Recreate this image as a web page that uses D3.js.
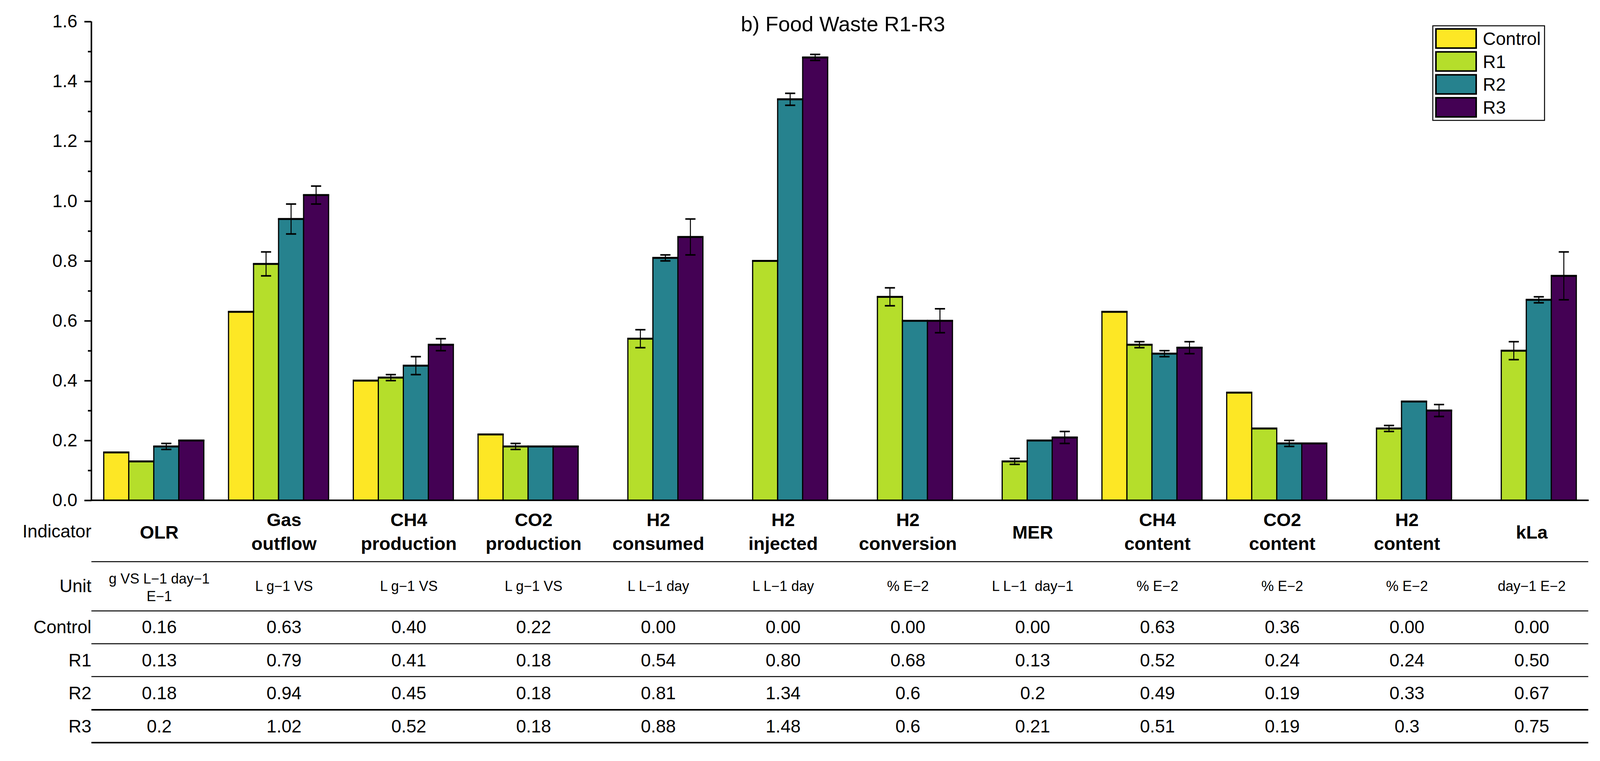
<!DOCTYPE html>
<html>
<head>
<meta charset="utf-8">
<script src="https://cdn.jsdelivr.net/npm/d3@7"></script>
<style>
  html, body { margin: 0; padding: 0; background: #fff; }
  svg { display: block; }
  text { font-family: "Liberation Sans", Arial, sans-serif; fill: #000; }
</style>
</head>
<body>
<svg id="chart" width="4127" height="1947"></svg>
<script>
// ---------------- DATA ----------------
const categories = ["OLR","Gas outflow","CH4 production","CO2 production","H2 consumed","H2 injected","H2 conversion","MER","CH4 content","CO2 content","H2 content","kLa"];
const headerLines = [["OLR"],["Gas","outflow"],["CH4","production"],["CO2","production"],["H2","consumed"],["H2","injected"],["H2","conversion"],["MER"],["CH4","content"],["CO2","content"],["H2","content"],["kLa"]];
const unitLines = [["g VS L\u22121 day\u22121","E\u22121"],["L g\u22121 VS"],["L g\u22121 VS"],["L g\u22121 VS"],["L L\u22121 day"],["L L\u22121 day"],["% E\u22122"],["L L\u22121  day\u22121"],["% E\u22122"],["% E\u22122"],["% E\u22122"],["day\u22121 E\u22122"]];
const seriesNames = ["Control","R1","R2","R3"];
const seriesColors = ["#FDE725","#B5DE2B","#26828E","#440154"];

const controlValues = [0.16,0.63,0.40,0.22,0,0,0,0,0.63,0.36,0,0];
const r1Values      = [0.13,0.79,0.41,0.18,0.54,0.80,0.68,0.13,0.52,0.24,0.24,0.50];
const r2Values      = [0.18,0.94,0.45,0.18,0.81,1.34,0.6,0.2,0.49,0.19,0.33,0.67];
const r3Values      = [0.2,1.02,0.52,0.18,0.88,1.48,0.6,0.21,0.51,0.19,0.3,0.75];

const controlErr = [0,0,0,0,0,0,0,0,0,0,0,0];
const r1Err      = [0,0.04,0.01,0.01,0.03,0,0.03,0.01,0.01,0,0.01,0.03];
const r2Err      = [0.01,0.05,0.03,0,0.01,0.02,0,0,0.01,0.01,0,0.01];
const r3Err      = [0,0.03,0.02,0,0.06,0.01,0.04,0.02,0.02,0,0.02,0.08];

const controlText = ["0.16","0.63","0.40","0.22","0.00","0.00","0.00","0.00","0.63","0.36","0.00","0.00"];
const r1Text      = ["0.13","0.79","0.41","0.18","0.54","0.80","0.68","0.13","0.52","0.24","0.24","0.50"];
const r2Text      = ["0.18","0.94","0.45","0.18","0.81","1.34","0.6","0.2","0.49","0.19","0.33","0.67"];
const r3Text      = ["0.2","1.02","0.52","0.18","0.88","1.48","0.6","0.21","0.51","0.19","0.3","0.75"];

const yTicks = [0,0.2,0.4,0.6,0.8,1.0,1.2,1.4,1.6];
const yMinorTicks = [0.1,0.3,0.5,0.7,0.9,1.1,1.3,1.5];
const titleText = "b) Food Waste R1-R3";

// ---------------- LAYOUT ----------------
const svg = d3.select("#chart");
const X0 = 234, X1 = 4067, Y0 = 1280, YTOP = 55;
const FONT = 46;

const values = [controlValues, r1Values, r2Values, r3Values];
const errs = [controlErr, r1Err, r2Err, r3Err];
const texts = [controlText, r1Text, r2Text, r3Text];

const x = d3.scaleBand().domain(categories).range([X0, X1]).paddingInner(0.198).paddingOuter(0.099);
const xs = d3.scaleBand().domain(seriesNames).range([0, x.bandwidth()]);
const y = d3.scaleLinear().domain([0, 1.6]).range([Y0, YTOP]);

const data = [];
categories.forEach((c, i) => {
  seriesNames.forEach((s, j) => {
    data.push({cat: c, ser: s, idx: j, v: values[j][i], e: errs[j][i]});
  });
});

// Bars
const gBars = svg.append("g");
const nz = data.filter(d => d.v > 0);
gBars.selectAll("rect").data(nz).enter().append("rect")
  .attr("x", d => x(d.cat) + xs(d.ser))
  .attr("y", d => y(d.v))
  .attr("width", xs.bandwidth())
  .attr("height", d => y(0) - y(d.v))
  .attr("fill", d => seriesColors[d.idx])
  .attr("stroke", "#000").attr("stroke-width", 3);
gBars.selectAll("line.top").data(nz).enter().append("line")
  .attr("class","top")
  .attr("x1", d => x(d.cat) + xs(d.ser) - 1.5)
  .attr("x2", d => x(d.cat) + xs(d.ser) + xs.bandwidth() + 1.5)
  .attr("y1", d => y(d.v)).attr("y2", d => y(d.v))
  .attr("stroke", "#000").attr("stroke-width", 5);

// Error bars
const ed = data.filter(d => d.e > 0);
const gErr = svg.append("g").attr("stroke", "#000");
ed.forEach(d => {
  const cx = x(d.cat) + xs(d.ser) + xs.bandwidth() / 2;
  gErr.append("line").attr("x1", cx).attr("x2", cx)
    .attr("y1", y(d.v + d.e)).attr("y2", y(d.v - d.e)).attr("stroke-width", 2.5);
  [d.v + d.e, d.v - d.e].forEach(t => {
    gErr.append("line").attr("x1", cx - 13).attr("x2", cx + 13)
      .attr("y1", y(t)).attr("y2", y(t)).attr("stroke-width", 4);
  });
});

// Y axis
const yAxis = d3.axisLeft(y).tickValues(yTicks).tickFormat(d3.format(".1f")).tickSize(18).tickSizeOuter(0).tickPadding(18);
const gy = svg.append("g").attr("transform", `translate(${X0},0)`).call(yAxis);
gy.select(".domain").attr("stroke-width", 4).attr("d", `M0,${YTOP}V${Y0 + 2}`);
gy.selectAll(".tick line").attr("stroke-width", 4);
gy.selectAll(".tick text").attr("font-size", FONT).attr("font-family", '"Liberation Sans", Arial, sans-serif');
const minorAxis = d3.axisLeft(y).tickValues(yMinorTicks).tickFormat("").tickSize(9).tickSizeOuter(0);
const gym = svg.append("g").attr("transform", `translate(${X0},0)`).call(minorAxis);
gym.select(".domain").remove();
gym.selectAll(".tick line").attr("stroke-width", 4);

// X axis line
svg.append("line").attr("x1", X0 - 2).attr("x2", X1).attr("y1", Y0).attr("y2", Y0)
  .attr("stroke", "#000").attr("stroke-width", 4);

// Title
svg.append("text").attr("x", 2158).attr("y", 80).attr("text-anchor", "middle")
  .attr("font-size", 54).text(titleText);

// Legend
const lg = svg.append("g");
lg.append("rect").attr("x", 3668).attr("y", 66).attr("width", 286).attr("height", 242)
  .attr("fill", "#fff").attr("stroke", "#000").attr("stroke-width", 2.5);
seriesNames.forEach((s, j) => {
  const top = 74 + j * 58.7;
  lg.append("rect").attr("x", 3676).attr("y", top).attr("width", 103).attr("height", 49)
    .attr("fill", seriesColors[j]).attr("stroke", "#000").attr("stroke-width", 4);
  lg.append("text").attr("x", 3796).attr("y", top + 25).attr("dominant-baseline", "central")
    .attr("font-size", FONT).text(s);
});

// Table
const tb = svg.append("g");
const colX = c => x(c) + x.bandwidth() / 2 + 14;
const rowLabelX = 234;
tb.append("text").attr("x", rowLabelX).attr("y", 1359).attr("text-anchor", "end")
  .attr("dominant-baseline", "central").attr("font-size", FONT).text("Indicator");
categories.forEach((c, i) => {
  const lines = headerLines[i];
  const ys = lines.length === 1 ? [1361] : [1329, 1390];
  lines.forEach((t, k) => {
    tb.append("text").attr("x", colX(c)).attr("y", ys[k]).attr("text-anchor", "middle")
      .attr("dominant-baseline", "central").attr("font-size", 47).attr("font-weight", "bold").text(t);
  });
});
tb.append("text").attr("x", rowLabelX).attr("y", 1499).attr("text-anchor", "end")
  .attr("dominant-baseline", "central").attr("font-size", FONT).text("Unit");
categories.forEach((c, i) => {
  const lines = unitLines[i];
  const ys = lines.length === 1 ? [1499] : [1480, 1525];
  lines.forEach((t, k) => {
    tb.append("text").attr("x", colX(c)).attr("y", ys[k]).attr("text-anchor", "middle")
      .attr("dominant-baseline", "central").attr("font-size", 36)
      .style("white-space", "pre").text(t);
  });
});
const rowY = [1604, 1689, 1773, 1858];
seriesNames.forEach((s, j) => {
  tb.append("text").attr("x", rowLabelX).attr("y", rowY[j]).attr("text-anchor", "end")
    .attr("dominant-baseline", "central").attr("font-size", FONT).text(s);
  categories.forEach((c, i) => {
    tb.append("text").attr("x", colX(c)).attr("y", rowY[j]).attr("text-anchor", "middle")
      .attr("dominant-baseline", "central").attr("font-size", FONT).text(texts[j][i]);
  });
});
const hLines = [[1437, 2.5], [1563, 2.5], [1647, 2.5], [1731, 2.5], [1816, 4], [1900, 4]];
hLines.forEach(([ly, w]) => {
  tb.append("line").attr("x1", 234).attr("x2", 4066).attr("y1", ly).attr("y2", ly)
    .attr("stroke", "#000").attr("stroke-width", w);
});
</script>
</body>
</html>
